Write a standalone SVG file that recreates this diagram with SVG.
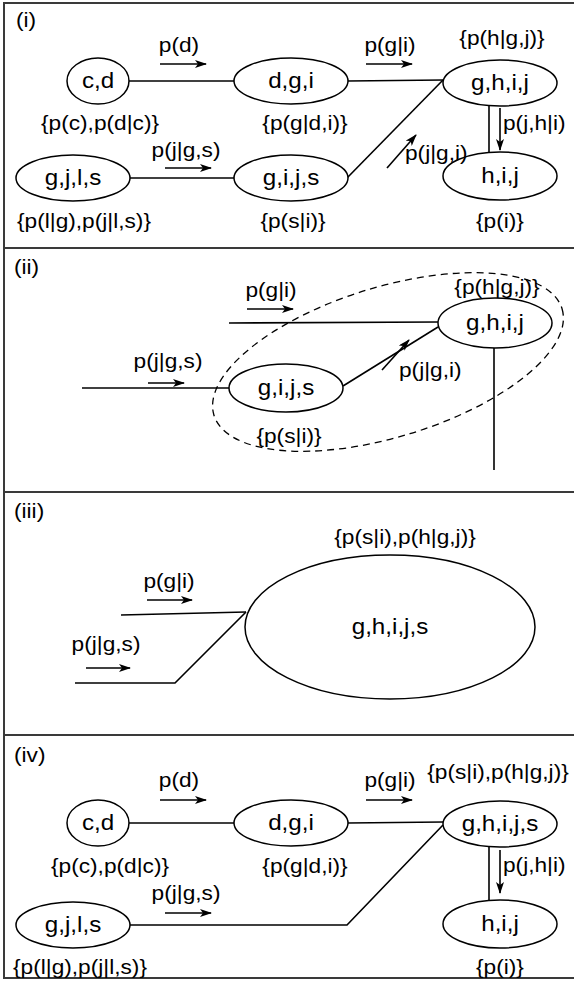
<svg xmlns="http://www.w3.org/2000/svg" width="574" height="981" viewBox="0 0 574 981">
<defs>
  <marker id="ah" viewBox="0 0 12 8" refX="11" refY="4" markerWidth="12" markerHeight="8" markerUnits="userSpaceOnUse" orient="auto">
    <path d="M0,0 L12,4 L0,8 L3,4 z" fill="#000"/>
  </marker>
</defs>
<style>
  .frame{fill:none;stroke:#3a3a3a;stroke-width:2}
  .node ellipse{fill:#fff;stroke:#000;stroke-width:1.5}
  .node text{font-size:22px}
  .edge{fill:none;stroke:#000;stroke-width:1.6}
  .arr{fill:none;stroke:#000;stroke-width:1.6;marker-end:url(#ah)}
  .dash{fill:none;stroke:#000;stroke-width:1.3;stroke-dasharray:7 5}
  text{font-family:"Liberation Sans",Arial,sans-serif;font-size:21px;fill:#000}
  .c{text-anchor:middle}
</style>
<rect width="574" height="981" fill="#fff"/>

<!-- panel frames -->
<g id="frames">
  <rect class="frame" x="4" y="3" width="620" height="975"/>
  <line class="frame" x1="4" y1="248" x2="574" y2="248"/>
  <line class="frame" x1="4" y1="492" x2="574" y2="492"/>
  <line class="frame" x1="4" y1="735" x2="574" y2="735"/>
</g>

<!-- connectors -->
<g id="connectors">
  <!-- (i) -->
  <line class="edge" x1="129" y1="81" x2="234" y2="81"/>
  <line class="edge" x1="348" y1="81" x2="443" y2="80"/>
  <line class="edge" x1="347" y1="178" x2="443" y2="80"/>
  <line class="edge" x1="130" y1="178" x2="234" y2="178"/>
  <line class="edge" x1="489" y1="105" x2="489" y2="153"/>
  <line class="arr" x1="160" y1="64" x2="206" y2="64"/>
  <line class="arr" x1="366" y1="64" x2="412" y2="64"/>
  <line class="arr" x1="165" y1="168" x2="211" y2="168"/>
  <line class="arr" x1="387" y1="168" x2="416" y2="135"/>
  <line class="arr" x1="500" y1="108" x2="500" y2="150"/>
  <!-- (ii) -->
  <line class="edge" x1="229" y1="323" x2="438" y2="322"/>
  <line class="edge" x1="494" y1="348" x2="494" y2="470"/>
  <line class="edge" x1="82" y1="388" x2="229" y2="388"/>
  <line class="edge" x1="343" y1="386" x2="438" y2="327"/>
  <line class="arr" x1="247" y1="309" x2="293" y2="309"/>
  <line class="arr" x1="148" y1="383" x2="184" y2="383"/>
  <line class="arr" x1="382" y1="370" x2="409" y2="340"/>
  <ellipse class="dash" cx="388" cy="362" rx="182" ry="75" transform="rotate(-17 388 362)"/>
  <!-- (iii) -->
  <line class="edge" x1="121" y1="615" x2="246" y2="612"/>
  <polyline class="edge" points="75,683 175,683 246,612"/>
  <line class="arr" x1="147" y1="600" x2="192" y2="600"/>
  <line class="arr" x1="86" y1="668" x2="130" y2="668"/>
  <!-- (iv) -->
  <line class="edge" x1="129" y1="823" x2="234" y2="823"/>
  <line class="edge" x1="348" y1="823" x2="443" y2="822"/>
  <polyline class="edge" points="130,925 347,925 443,825"/>
  <line class="edge" x1="489" y1="847" x2="489" y2="900"/>
  <line class="arr" x1="160" y1="800" x2="206" y2="800"/>
  <line class="arr" x1="366" y1="800" x2="412" y2="800"/>
  <line class="arr" x1="165" y1="913" x2="211" y2="913"/>
  <line class="arr" x1="500" y1="850" x2="500" y2="893"/>
</g>

<!-- panel (i) -->
<g id="panel-i">
  <text transform="matrix(1.08 0 0 1 16 27)">(i)</text>
  <g id="n1-cd" class="node"><ellipse cx="98" cy="81" rx="31" ry="23"/><text class="c" transform="matrix(1.1 0 0 1 98 88)">c,d</text></g>
  <g id="n1-dgi" class="node"><ellipse cx="291" cy="81" rx="57" ry="23"/><text class="c" transform="matrix(1.1 0 0 1 291 88)">d,g,i</text></g>
  <g id="n1-ghij" class="node"><ellipse cx="500" cy="83" rx="57" ry="23"/><text class="c" transform="matrix(1.1 0 0 1 500 90)">g,h,i,j</text></g>
  <g id="n1-gjls" class="node"><ellipse cx="73" cy="178" rx="57" ry="23"/><text class="c" transform="matrix(1.1 0 0 1 73 185)">g,j,l,s</text></g>
  <g id="n1-gijs" class="node"><ellipse cx="291" cy="178" rx="57" ry="23"/><text class="c" transform="matrix(1.1 0 0 1 291 185)">g,i,j,s</text></g>
  <g id="n1-hij" class="node"><ellipse cx="500" cy="176" rx="57" ry="24"/><text class="c" transform="matrix(1.1 0 0 1 500 183)">h,i,j</text></g>
  <text class="c" transform="matrix(1.08 0 0 1 179 52)">p(d)</text>
  <text class="c" transform="matrix(1.08 0 0 1 390 52)">p(g|i)</text>
  <text class="c" transform="matrix(1.08 0 0 1 502 45)">{p(h|g,j)}</text>
  <text class="c" transform="matrix(1.08 0 0 1 100 130)">{p(c),p(d|c)}</text>
  <text class="c" transform="matrix(1.08 0 0 1 305 130)">{p(g|d,i)}</text>
  <text transform="matrix(1.08 0 0 1 503 130)">p(j,h|i)</text>
  <text class="c" transform="matrix(1.08 0 0 1 186 157)">p(j|g,s)</text>
  <text transform="matrix(1.08 0 0 1 405 160)">p(j|g,i)</text>
  <text class="c" transform="matrix(1.08 0 0 1 84 228)">{p(l|g),p(j|l,s)}</text>
  <text class="c" transform="matrix(1.08 0 0 1 293 228)">{p(s|i)}</text>
  <text class="c" transform="matrix(1.08 0 0 1 500 228)">{p(i)}</text>
</g>

<!-- panel (ii) -->
<g id="panel-ii">
  <text transform="matrix(1.08 0 0 1 14 274)">(ii)</text>
  <g id="n2-ghij" class="node"><ellipse cx="495" cy="323" rx="57" ry="25"/><text class="c" transform="matrix(1.1 0 0 1 495 330)">g,h,i,j</text></g>
  <g id="n2-gijs" class="node"><ellipse cx="286" cy="388" rx="57" ry="24"/><text class="c" transform="matrix(1.1 0 0 1 286 395)">g,i,j,s</text></g>
  <text class="c" transform="matrix(1.08 0 0 1 271 297)">p(g|i)</text>
  <text class="c" transform="matrix(1.08 0 0 1 497 294)">{p(h|g,j)}</text>
  <text class="c" transform="matrix(1.08 0 0 1 168 368)">p(j|g,s)</text>
  <text transform="matrix(1.08 0 0 1 399 377)">p(j|g,i)</text>
  <text class="c" transform="matrix(1.08 0 0 1 289 443)">{p(s|i)}</text>
</g>

<!-- panel (iii) -->
<g id="panel-iii">
  <text transform="matrix(1.08 0 0 1 14 518)">(iii)</text>
  <g id="n3-ghijs" class="node"><ellipse cx="390" cy="627" rx="145" ry="72"/><text class="c" transform="matrix(1.1 0 0 1 390 634)">g,h,i,j,s</text></g>
  <text class="c" transform="matrix(1.08 0 0 1 405 544)">{p(s|i),p(h|g,j)}</text>
  <text class="c" transform="matrix(1.08 0 0 1 169 588)">p(g|i)</text>
  <text class="c" transform="matrix(1.08 0 0 1 106 651)">p(j|g,s)</text>
</g>

<!-- panel (iv) -->
<g id="panel-iv">
  <text transform="matrix(1.08 0 0 1 14 762)">(iv)</text>
  <g id="n4-cd" class="node"><ellipse cx="98" cy="823" rx="31" ry="23"/><text class="c" transform="matrix(1.1 0 0 1 98 830)">c,d</text></g>
  <g id="n4-dgi" class="node"><ellipse cx="291" cy="823" rx="57" ry="23"/><text class="c" transform="matrix(1.1 0 0 1 291 830)">d,g,i</text></g>
  <g id="n4-ghijs" class="node"><ellipse cx="500" cy="824" rx="57" ry="23"/><text class="c" transform="matrix(1.1 0 0 1 500 831)">g,h,i,j,s</text></g>
  <g id="n4-gjls" class="node"><ellipse cx="73" cy="925" rx="57" ry="23"/><text class="c" transform="matrix(1.1 0 0 1 73 932)">g,j,l,s</text></g>
  <g id="n4-hij" class="node"><ellipse cx="500" cy="924" rx="57" ry="24"/><text class="c" transform="matrix(1.1 0 0 1 500 931)">h,i,j</text></g>
  <text class="c" transform="matrix(1.08 0 0 1 179 787)">p(d)</text>
  <text class="c" transform="matrix(1.08 0 0 1 390 787)">p(g|i)</text>
  <text class="c" transform="matrix(1.08 0 0 1 498 779)">{p(s|i),p(h|g,j)}</text>
  <text class="c" transform="matrix(1.08 0 0 1 110 873)">{p(c),p(d|c)}</text>
  <text class="c" transform="matrix(1.08 0 0 1 305 873)">{p(g|d,i)}</text>
  <text transform="matrix(1.08 0 0 1 503 872)">p(j,h|i)</text>
  <text class="c" transform="matrix(1.08 0 0 1 186 900)">p(j|g,s)</text>
  <text class="c" transform="matrix(1.08 0 0 1 80 974)">{p(l|g),p(j|l,s)}</text>
  <text class="c" transform="matrix(1.08 0 0 1 500 974)">{p(i)}</text>
</g>
</svg>
